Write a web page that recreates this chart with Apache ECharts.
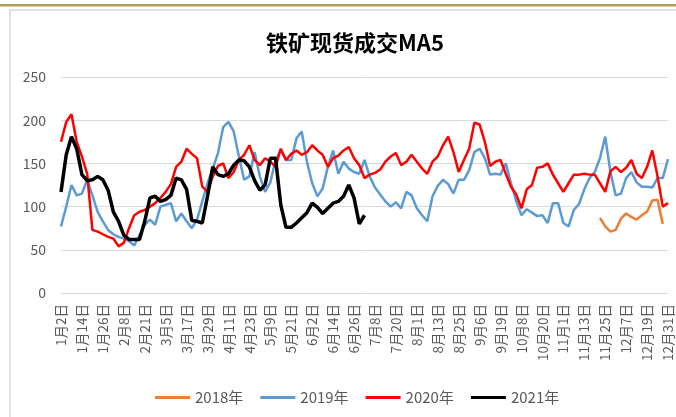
<!DOCTYPE html>
<html>
<head>
<meta charset="utf-8">
<script src="https://cdn.jsdelivr.net/npm/echarts@6/dist/echarts.min.js"></script>
<style>
html,body{margin:0;padding:0;background:#fff;}
#chart{width:676px;height:417px;}
</style>
</head>
<body>
<div id="chart"></div>
<script>
// Tick labels shown on the x axis (every 4th category)
var tickLabels = ['1月2日','1月14日','1月26日','2月8日','2月21日','3月5日','3月17日','3月29日','4月11日','4月23日','5月9日','5月21日','6月2日','6月14日','6月26日','7月8日','7月20日','8月1日','8月13日','8月25日','9月6日','9月19日','10月8日','10月20日','11月1日','11月13日','11月25日','12月7日','12月19日','12月31日'];
var stepsPerTick = 4;

var seriesNames = ['2018年','2019年','2020年','2021年'];

var values2018 = [null,null,null,null,null,null,null,null,null,null,
null,null,null,null,null,null,null,null,null,null,
null,null,null,null,null,null,null,null,null,null,
null,null,null,null,null,null,null,null,null,null,
null,null,null,null,null,null,null,null,null,null,
null,null,null,null,null,null,null,null,null,null,
null,null,null,null,null,null,null,null,null,null,
null,null,null,null,null,null,null,null,null,null,
null,null,null,null,null,null,null,null,null,null,
null,null,null,null,null,null,null,null,null,null,
null,null,null,87,77,71,73,86,92,88,
85,90,94,107,108,80,null];

var values2019 = [77,100,125,113,115,131,113,94,83,73,
68,65,63,60,55,67,79,85,79,100,
102,104,83,92,83,75,85,106,127,144,
162,192,198,187,158,131,135,163,135,117,
128,154,165,154,154,179,187,152,127,112,
121,146,165,138,152,144,140,138,154,135,
122,114,106,100,105,98,117,113,98,90,
83,112,124,131,126,115,131,131,142,163,
167,156,137,138,137,150,127,106,90,97,
93,89,90,81,104,104,81,77,96,103,
120,133,140,156,181,140,113,115,133,140,
128,123,123,122,133,133,155];

var values2020 = [175,198,207,175,158,138,73,71,68,65,
63,54,58,75,90,94,96,100,104,110,
117,126,146,152,167,161,156,123,117,135,
147,150,133,140,154,160,171,154,148,156,
152,146,167,154,161,165,160,163,171,165,
160,146,156,159,165,169,156,148,133,137,
139,143,152,158,162,148,152,160,152,144,
138,152,158,171,181,163,140,154,167,197,
195,175,147,152,154,138,123,114,98,120,
125,145,146,150,137,127,117,127,137,137,
138,137,137,127,117,141,146,140,145,154,
138,133,146,165,135,100,104];

var values2021 = [117,160,181,167,137,130,131,135,131,119,
94,83,67,62,62,62,83,110,112,106,
108,113,133,131,120,84,83,81,112,146,
137,135,138,148,154,153,146,130,119,125,
156,156,102,76,76,81,87,93,104,99,
92,98,104,106,112,125,110,80,90];

// Build the category dates between consecutive tick labels
function parseMD(s){var m=s.match(/(\d+)月(\d+)日/);return new Date(2020,+m[1]-1,+m[2]);}
function fmt(d){return (d.getMonth()+1)+'月'+d.getDate()+'日';}
var categories = [];
for (var t=0;t<tickLabels.length;t++){
  categories.push(tickLabels[t]);
  if (t<tickLabels.length-1){
    var a=parseMD(tickLabels[t]), b=parseMD(tickLabels[t+1]);
    var span=(b-a)/86400000;
    for (var j=1;j<stepsPerTick;j++){
      var d=new Date(a.getTime()+Math.round(j*span/stepsPerTick)*86400000);
      categories.push(fmt(d));
    }
  }
}

var colors = ['#ED7D31','#5B9BD5','#FF0000','#000000'];
var widths = [2.5,2.5,2.5,3.5];
var allValues = [values2018, values2019, values2020, values2021];

var chart = echarts.init(document.getElementById('chart'), null, {renderer:'canvas'});
var font = '"Noto Sans CJK SC", "Noto Sans", sans-serif';

chart.setOption({
  animation:false,
  backgroundColor:'#ffffff',
  color: colors,
  graphic:[
    {type:'rect', shape:{x:0,y:4,width:676,height:2.5}, style:{fill:'#B6995F'}, silent:true},
    {type:'rect', shape:{x:10,y:10,width:700,height:500}, style:{fill:'none', stroke:'#D9D9D9', lineWidth:1.5}, silent:true}
  ],
  title:{
    text:'铁矿现货成交MA5',
    left:350, top:27, textAlign:'center',
    textStyle:{fontFamily:font, fontSize:22, fontWeight:'bold', color:'#000000'}
  },
  legend:{
    data: seriesNames,
    left:150, top:385,
    icon:'rect', itemWidth:35, itemHeight:3, itemGap:17,
    textStyle:{fontFamily:font, fontSize:15, color:'#595959'}
  },
  grid:{left:61, right:8, top:77, bottom:124, containLabel:false},
  xAxis:{
    type:'category',
    data: categories,
    boundaryGap:false,
    axisLine:{lineStyle:{color:'#D9D9D9', width:1}},
    axisTick:{show:false},
    axisLabel:{
      interval: stepsPerTick-1,
      rotate:90,
      margin:11,
      fontFamily:font, fontSize:13.5, color:'#595959'
    },
    splitLine:{show:false}
  },
  yAxis:{
    type:'value',
    min:0, max:250, interval:50,
    axisLine:{show:false},
    axisTick:{show:false},
    axisLabel:{margin:15, fontFamily:font, fontSize:14, color:'#595959'},
    splitLine:{lineStyle:{color:'#D9D9D9', width:1}}
  },
  series: seriesNames.map(function(n,k){
    return {
      name:n, type:'line', data: allValues[k],
      showSymbol:false, symbol:'none', connectNulls:false,
      lineStyle:{color:colors[k], width:widths[k]},
      itemStyle:{color:colors[k]},
      z: 2+k
    };
  })
});
</script>
</body>
</html>
